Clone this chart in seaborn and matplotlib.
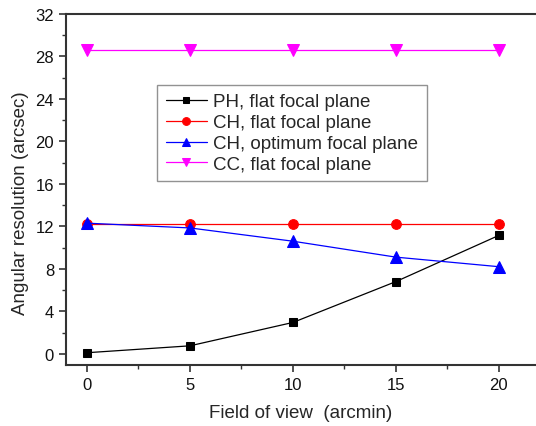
import matplotlib
matplotlib.use("Agg")
import matplotlib.pyplot as plt
import pandas as pd
import seaborn as sns
from matplotlib.ticker import MultipleLocator

# data
fov = [0, 5, 10, 15, 20]
ph_flat = [0.1, 0.75, 2.95, 6.8, 11.15]
ch_flat = [12.25, 12.25, 12.25, 12.25, 12.25]
ch_opt = [12.3, 11.85, 10.6, 9.1, 8.2]
cc_flat = [28.6, 28.6, 28.6, 28.6, 28.6]

labels = ["PH, flat focal plane", "CH, flat focal plane",
          "CH, optimum focal plane", "CC, flat focal plane"]
series = [ph_flat, ch_flat, ch_opt, cc_flat]
colors = ["black", "red", "blue", "magenta"]
markers = ["s", "o", "^", "v"]
msizes = [6, 7, 8, 8]

rows = []
for lab, vals in zip(labels, series):
    for x, y in zip(fov, vals):
        rows.append({"fov": x, "res": y, "curve": lab})
df = pd.DataFrame(rows)

sns.set_style("ticks")
plt.rcParams["font.family"] = ["Liberation Sans", "DejaVu Sans"]

fig = plt.figure(figsize=(5.36, 4.27), dpi=100)
ax = fig.add_axes([0.123, 0.143, 0.877, 0.822])

for lab, c, m, ms in zip(labels, colors, markers, msizes):
    sub = df[df["curve"] == lab]
    sns.lineplot(data=sub, x="fov", y="res", ax=ax, color=c, marker=m,
                 markersize=ms, markeredgecolor=c, linewidth=0.9, label=lab)

ax.set_xlim(-1.02, 21.8)
ax.set_ylim(-1.05, 32)
ax.xaxis.set_major_locator(MultipleLocator(5))
ax.xaxis.set_minor_locator(MultipleLocator(2.5))
ax.yaxis.set_major_locator(MultipleLocator(4))
ax.yaxis.set_minor_locator(MultipleLocator(2))
ax.tick_params(which="major", length=5, width=1.2, labelsize=12,
               color="#333333", labelcolor="#111111")
ax.tick_params(which="minor", length=3, width=1.0, color="#333333")

for side in ["left", "bottom", "top"]:
    ax.spines[side].set_linewidth(1.5)
    ax.spines[side].set_color("#333333")
ax.spines["right"].set_visible(False)

ax.set_xlabel("Field of view  (arcmin)", fontsize=13.5, labelpad=9)
ax.set_ylabel("Angular resolution (arcsec)", fontsize=13.5)
ax.yaxis.set_label_coords(-0.079, 0.463)

leg = ax.legend(loc="upper left", bbox_to_anchor=(0.194, 0.798),
                borderaxespad=0, fontsize=13.5, fancybox=False,
                frameon=True, edgecolor="#777777", handlelength=2.2,
                labelspacing=0.2, borderpad=0.45, handletextpad=0.35,
                markerscale=0.8)
leg.get_frame().set_linewidth(1.0)

plt.savefig("out.png", dpi=100)
